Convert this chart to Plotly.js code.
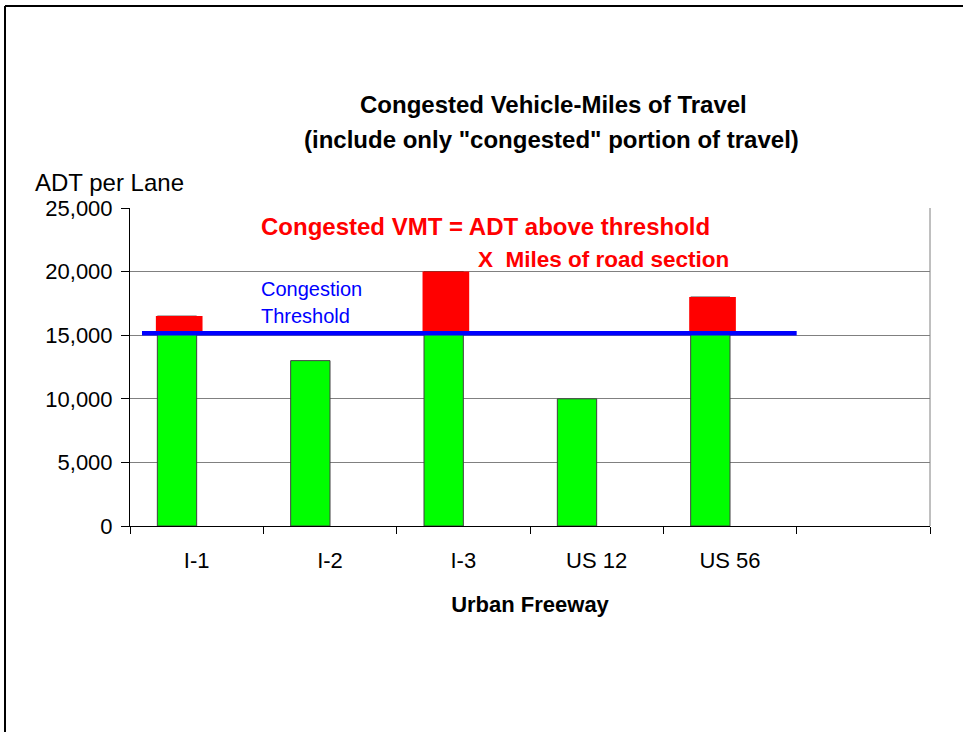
<!DOCTYPE html>
<html>
<head>
<meta charset="utf-8">
<script src="https://cdn.plot.ly/plotly-3.0.1.min.js"></script>
<style>
  html, body { margin: 0; padding: 0; background: #fff; }
  #chart { width: 963px; height: 732px; }
</style>
</head>
<body>
<div id="chart"></div>
<script>
// ---- data ----
const categories = ['I-1', 'I-2', 'I-3', 'US 12', 'US 56'];
const adtPerLane = [16500, 13000, 20000, 10000, 18000];
const congestionThreshold = 15150;
const thresholdSpan = [-0.41, 4.5];          // category-index extent of the threshold line
const yTickValues = [0, 5000, 10000, 15000, 20000, 25000];
const extraSlot = ' ';                        // empty sixth slot on the axis

// ---- derived ----
const congestedPart = adtPerLane.map(v => v > congestionThreshold ? v - congestionThreshold : null);

const W = 963, H = 732;
const M = { l: 130, r: 33, t: 208, b: 206 };
const pw = W - M.l - M.r, ph = H - M.t - M.b;
const px = x => (x - M.l) / pw;
const py = y => (H - M.b - y) / ph;
const FONT = 'Liberation Sans, Arial, Helvetica, sans-serif';

const traces = [
  {
    type: 'bar', x: categories, y: adtPerLane,
    marker: { color: '#00FF00', line: { color: '#404040', width: 1 } },
    width: 0.295, offset: -0.295, hoverinfo: 'x+y', showlegend: false
  },
  {
    type: 'bar', x: categories, y: congestedPart, base: congestionThreshold,
    marker: { color: '#FF0000', line: { width: 0 } },
    width: 0.35, offset: -0.306, hoverinfo: 'x+y', showlegend: false
  },
  {
    type: 'scatter', mode: 'lines', xaxis: 'x2', yaxis: 'y',
    x: thresholdSpan, y: [congestionThreshold, congestionThreshold],
    line: { color: '#0000FF', width: 4.5 }, hoverinfo: 'skip', showlegend: false
  }
];

const ann = (text, x, y, opts) => Object.assign({
  text, x: px(x), y: py(y), xref: 'paper', yref: 'paper',
  showarrow: false, xanchor: 'left', yanchor: 'middle'
}, opts);

const layout = {
  width: W, height: H,
  margin: M,
  paper_bgcolor: '#fff', plot_bgcolor: '#fff',
  font: { family: FONT, color: '#000', size: 22 },
  barmode: 'overlay',
  showlegend: false,
  xaxis: {
    type: 'category',
    categoryorder: 'array', categoryarray: categories.concat([extraSlot]),
    range: [-0.5, 5.5],
    tickson: 'boundaries',
    ticks: 'outside', ticklen: 7, tickcolor: '#000', tickwidth: 1,
    showline: true, linecolor: '#000', linewidth: 1,
    showgrid: false, zeroline: false,
    tickfont: { size: 22, family: FONT, color: '#000' },
    ticklabelstandoff: 15,
    title: { text: '<b>Urban Freeway</b>', font: { size: 22, family: FONT, color: '#000' }, standoff: 24 },
    fixedrange: true
  },
  xaxis2: {
    overlaying: 'x', range: [-0.5, 5.5], visible: false, fixedrange: true
  },
  yaxis: {
    range: [0, 25000], tickvals: yTickValues, tickformat: ',d',
    ticks: 'outside', ticklen: 8, tickcolor: '#000', tickwidth: 1,
    showline: true, linecolor: '#000', linewidth: 1,
    showgrid: true, gridcolor: '#808080', gridwidth: 1,
    zeroline: false,
    tickfont: { size: 22, family: FONT, color: '#000' },
    ticklabelstandoff: 4,
    fixedrange: true
  },
  shapes: [
    // right frame edge of plot area
    { type: 'line', xref: 'paper', yref: 'paper', x0: 1, x1: 1, y0: 0, y1: 1,
      line: { color: '#808080', width: 1 } },
    // outer border (top + left)
    { type: 'line', xref: 'paper', yref: 'paper', x0: px(5), x1: px(970), y0: py(6), y1: py(6),
      line: { color: '#000', width: 2 } },
    { type: 'line', xref: 'paper', yref: 'paper', x0: px(5), x1: px(5), y0: py(6), y1: py(740),
      line: { color: '#000', width: 2 } }
  ],
  annotations: [
    ann('<b>Congested Vehicle-Miles of Travel</b>', 553, 104, { xanchor: 'center', font: { size: 24, family: FONT, color: '#000' } }),
    ann('<b>(include only "congested" portion of travel)</b>', 551, 139.5, { xanchor: 'center', font: { size: 24, family: FONT, color: '#000' } }),
    ann('ADT per Lane', 33, 182, { font: { size: 24, family: FONT, color: '#000' } }),
    ann('<b>Congested VMT = ADT above threshold</b>', 259, 226, { font: { size: 24, family: FONT, color: '#FF0000' } }),
    ann('<b>X  Miles of road section</b>', 476, 259.5, { font: { size: 22.5, family: FONT, color: '#FF0000' } }),
    ann('Congestion', 259, 289, { font: { size: 20, family: FONT, color: '#0000FF' } }),
    ann('Threshold', 259, 316, { font: { size: 20, family: FONT, color: '#0000FF' } })
  ]
};

Plotly.newPlot('chart', traces, layout, { displayModeBar: false, staticPlot: true });
</script>
</body>
</html>
